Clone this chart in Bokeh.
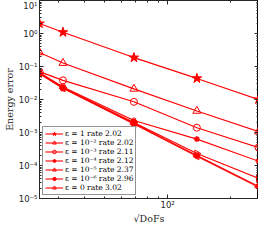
from bokeh.plotting import figure
from bokeh.models import Range1d, FixedTicker, LogAxis, Legend, LegendItem
from bokeh.embed import file_html
from bokeh.resources import INLINE
import math

# data
sqrt_dofs = [24.4, 31.6, 69.0, 138.0, 272.0]
err_eps1 = [2.0, 1.09, 0.186, 0.0436, 0.0100]
err_eps1e2 = [0.267, 0.127, 0.021, 0.0045, 0.00107]
err_eps1e3 = [0.070, 0.038, 0.0085, 0.0014, 0.00035]
err_eps1e4 = [0.066, 0.024, 0.0023, 0.00063, 0.000135]
err_eps1e5 = [0.063, 0.023, 0.0020, 0.00023, 0.000041]
err_eps1e6 = [0.061, 0.022, 0.0019, 0.00020, 0.0000235]
err_eps0 = [0.060, 0.022, 0.0018, 0.00019, 0.000022]

labels = ["\u03b5 = 1 rate 2.02", "\u03b5 = 10\u207b\u00b2 rate 2.02", "\u03b5 = 10\u207b\u00b3 rate 2.11",
          "\u03b5 = 10\u207b\u2074 rate 2.12", "\u03b5 = 10\u207b\u2075 rate 2.37", "\u03b5 = 10\u207b\u2076 rate 2.96",
          "\u03b5 = 0 rate 3.02"]
y_ticks = [1e-5, 1e-4, 1e-3, 1e-2, 1e-1, 1e0, 1e1]
y_tick_labels = ["10\u207b\u2075", "10\u207b\u2074", "10\u207b\u00b3", "10\u207b\u00b2", "10\u207b\u00b9", "10\u2070", "10\u00b9"]
x_ticks = [100]
x_tick_labels = ["10\u00b2"]
x_title = "\u221aDoFs"
y_title = "Energy error"

RED = "#ff0000"
p = figure(width=258, height=226, x_axis_type="log", y_axis_type="log",
           x_range=Range1d(24.4, 272), y_range=Range1d(1e-5, 10),
           output_backend="svg", toolbar_location=None,
           min_border_left=0, min_border_right=0, min_border_top=0, min_border_bottom=0)
p.grid.visible = False
p.outline_line_color = "#000000"
p.background_fill_color = "white"

y_minor = [m * 10.0 ** e for e in range(-5, 1) for m in range(2, 10)]
x_minor = [30, 40, 50, 60, 70, 80, 90, 200]

def style(ax):
    ax.major_tick_in = 4
    ax.major_tick_out = 0
    ax.minor_tick_in = 2
    ax.minor_tick_out = 0
    ax.axis_line_color = "#262626"
    ax.major_tick_line_color = "#262626"
    ax.minor_tick_line_color = "#262626"
    ax.major_label_text_font = "DejaVu Sans"
    ax.major_label_text_font_size = "8.5px"
    ax.major_label_text_color = "#262626"
    ax.major_label_text_line_height = 1.0
    ax.axis_label_text_font = "DejaVu Serif"
    ax.axis_label_text_font_style = "normal"
    ax.axis_label_text_font_size = "9.5px"
    ax.axis_label_text_color = "#262626"
    ax.axis_label_text_line_height = 1.0

p.yaxis.ticker = FixedTicker(ticks=y_ticks, minor_ticks=y_minor)
p.xaxis.ticker = FixedTicker(ticks=x_ticks, minor_ticks=x_minor)
p.yaxis.major_label_overrides = {t: l for t, l in zip(y_ticks, y_tick_labels)}
p.xaxis.major_label_overrides = {t: l for t, l in zip(x_ticks, x_tick_labels)}
style(p.yaxis[0])
style(p.xaxis[0])
p.yaxis.axis_label = y_title
p.xaxis.axis_label = x_title
p.yaxis.axis_label_standoff = 1
p.yaxis.major_label_standoff = 2
p.xaxis.axis_label_standoff = 0
p.xaxis.major_label_standoff = 1

ra = LogAxis(ticker=FixedTicker(ticks=y_ticks, minor_ticks=y_minor))
ta = LogAxis(ticker=FixedTicker(ticks=x_ticks, minor_ticks=x_minor))
style(ra)
style(ta)
ra.major_label_overrides = {t: "" for t in y_ticks}
ta.major_label_overrides = {t: "" for t in x_ticks}
ra.major_label_standoff = 0
ta.major_label_standoff = 0
p.add_layout(ra, "right")
p.add_layout(ta, "above")

series = [err_eps1, err_eps1e2, err_eps1e3, err_eps1e4, err_eps1e5, err_eps1e6, err_eps0]
markers = [("star", 0, True, 10), ("triangle", 0, False, 8), ("circle", 0, False, 7),
           ("asterisk", 0, False, 6), ("triangle", -math.pi / 2, False, 7),
           ("hex", 0, True, 6), ("triangle", math.pi / 2, False, 7)]

items = []
for ys, (mk, ang, filled, sz), lab in zip(series, markers, labels):
    l = p.line(sqrt_dofs, ys, line_color=RED, line_width=1.1)
    s = p.scatter(sqrt_dofs, ys, marker=mk, angle=ang, size=sz, line_color=RED,
                  fill_color=RED if filled else None, line_width=1.3 if mk == "asterisk" else 1)
    items.append(LegendItem(label=lab, renderers=[l, s]))

leg = Legend(items=items, location="bottom_left")
leg.label_text_font = "DejaVu Serif"
leg.label_text_font_size = "7.5px"
leg.label_text_line_height = 1.0
leg.label_text_color = "#000000"
leg.label_height = 9
leg.glyph_height = 9
leg.glyph_width = 18
leg.label_standoff = 2
leg.spacing = 0
leg.padding = 2
leg.margin = 3
leg.border_line_color = "#262626"
leg.border_line_width = 1
leg.background_fill_alpha = 1
p.add_layout(leg)

open("out.html", "w").write(file_html(p, INLINE))
